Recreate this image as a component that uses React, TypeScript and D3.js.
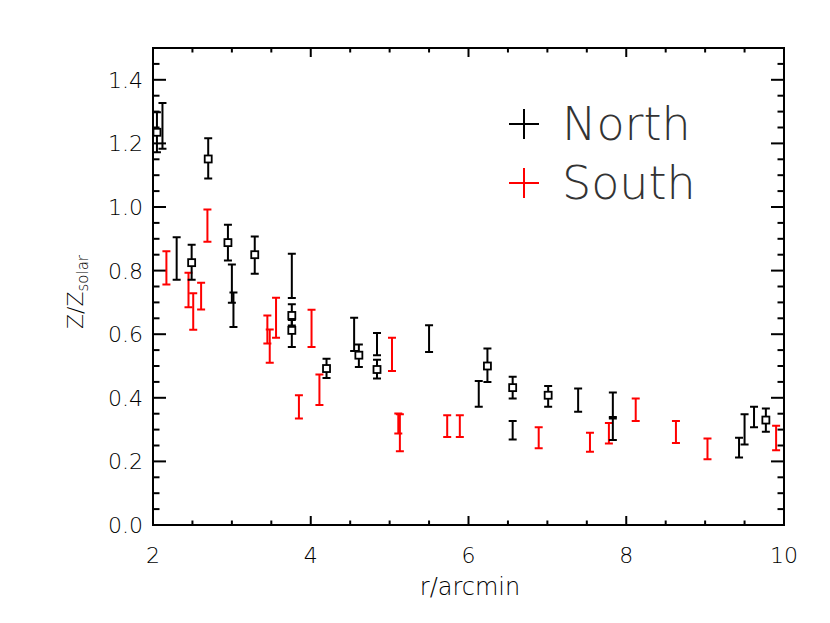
import React, { useEffect, useRef } from "react";
import * as d3 from "d3";

// [r, z, zLow, zHigh] — black points drawn with an open square
const northSquares: [number, number, number, number][] = [
  [2.05, 1.235, 1.172, 1.298], [2.49, 0.825, 0.771, 0.881], [2.7, 1.151, 1.09, 1.216],
  [2.95, 0.888, 0.832, 0.944], [3.29, 0.85, 0.79, 0.907], [3.76, 0.659, 0.627, 0.694],
  [3.76, 0.612, 0.56, 0.645], [4.2, 0.492, 0.462, 0.523], [4.61, 0.534, 0.497, 0.568],
  [4.84, 0.489, 0.461, 0.52], [6.24, 0.5, 0.45, 0.555], [6.56, 0.432, 0.398, 0.466],
  [7.01, 0.408, 0.372, 0.437], [9.77, 0.33, 0.293, 0.366],
];

// [r, zLow, zHigh] — plain error bars
const northBars: [number, number, number][] = [
  [2.12, 1.183, 1.327], [2.3, 0.771, 0.905], [3.0, 0.699, 0.819], [3.02, 0.623, 0.731],
  [3.76, 0.714, 0.853], [4.55, 0.547, 0.652], [4.84, 0.534, 0.604], [5.5, 0.544, 0.628],
  [6.13, 0.372, 0.453], [6.56, 0.269, 0.327], [7.39, 0.356, 0.429], [7.83, 0.335, 0.417],
  [7.83, 0.267, 0.34], [9.43, 0.212, 0.274], [9.5, 0.253, 0.348], [9.62, 0.307, 0.372],
];

const southBars: [number, number, number][] = [
  [2.17, 0.756, 0.861], [2.45, 0.685, 0.793], [2.51, 0.614, 0.729], [2.61, 0.678, 0.762],
  [2.69, 0.891, 0.992], [3.45, 0.571, 0.659], [3.48, 0.51, 0.615], [3.56, 0.589, 0.715],
  [3.85, 0.335, 0.408], [4.01, 0.56, 0.677], [4.11, 0.377, 0.473], [5.03, 0.484, 0.589],
  [5.11, 0.288, 0.351], [5.13, 0.232, 0.348], [5.73, 0.277, 0.345], [5.89, 0.277, 0.345],
  [6.89, 0.241, 0.307], [7.54, 0.23, 0.29], [7.78, 0.256, 0.321], [8.12, 0.327, 0.398],
  [8.63, 0.258, 0.327], [9.03, 0.207, 0.272], [9.9, 0.235, 0.312],
];

const xMajor = [2, 4, 6, 8, 10];
const yMajor = [0, 0.2, 0.4, 0.6, 0.8, 1.0, 1.2, 1.4];
const legendItems = [{ name: "North", color: "black" }, { name: "South", color: "red" }];

export default function App() {
  const ref = useRef<SVGSVGElement>(null);

  useEffect(() => {
    const svg = d3.select(ref.current);
    svg.selectAll("*").remove();
    const left = 153, right = 784, top = 48, bottom = 525;
    const font = "'DejaVu Sans', sans-serif";

    const x = d3.scaleLinear().domain([2, 10]).range([left, right]);
    const y = d3.scaleLinear().domain([0, 1.5]).range([bottom, top]);

    const xMinor = d3.range(2, 10.001, 0.5).filter((v) => !xMajor.includes(v));
    const yMinor = d3.range(0, 1.501, 0.05).map((v) => +v.toFixed(2)).filter((v) => !yMajor.includes(v));

    const g = svg.append("g").attr("stroke", "black").attr("stroke-width", 2);
    // ticks, drawn inward on all four sides
    const xt = [...xMajor.map((v) => [v, 9]), ...xMinor.map((v) => [v, 4.5])];
    g.selectAll(".xb").data(xt).join("line")
      .attr("x1", (d) => x(d[0])).attr("x2", (d) => x(d[0]))
      .attr("y1", bottom).attr("y2", (d) => bottom - d[1]);
    g.selectAll(".xt").data(xt).join("line")
      .attr("x1", (d) => x(d[0])).attr("x2", (d) => x(d[0]))
      .attr("y1", top).attr("y2", (d) => top + d[1]);
    const yt = [...yMajor.map((v) => [v, 13]), ...yMinor.map((v) => [v, 6.5])];
    g.selectAll(".yl").data(yt).join("line")
      .attr("y1", (d) => y(d[0])).attr("y2", (d) => y(d[0]))
      .attr("x1", left).attr("x2", (d) => left + d[1]);
    g.selectAll(".yr").data(yt).join("line")
      .attr("y1", (d) => y(d[0])).attr("y2", (d) => y(d[0]))
      .attr("x1", right).attr("x2", (d) => right - d[1]);
    g.append("rect").attr("x", left).attr("y", top).attr("width", right - left)
      .attr("height", bottom - top).attr("fill", "none");

    // tick labels
    svg.selectAll(".xlab").data(xMajor).join("text")
      .attr("x", (d) => x(d)).attr("y", 563).attr("text-anchor", "middle")
      .attr("font-family", font).attr("font-weight", 200).attr("font-size", 22).attr("fill", "black").text((d) => d);
    svg.selectAll(".ylab").data(yMajor).join("text")
      .attr("x", 143).attr("y", (d) => y(d) + 8).attr("text-anchor", "end")
      .attr("font-family", font).attr("font-weight", 200).attr("font-size", 22).attr("fill", "black").text((d) => d.toFixed(1));

    svg.append("text").attr("x", 470).attr("y", 595).attr("text-anchor", "middle")
      .attr("font-family", font).attr("font-weight", 200).attr("font-size", 24).attr("fill", "black").text("r/arcmin");
    const yt2 = svg.append("text").attr("transform", "translate(83,292) rotate(-90)")
      .attr("text-anchor", "middle").attr("font-family", font).attr("font-weight", 200)
      .attr("font-size", 22).attr("fill", "black");
    yt2.append("tspan").text("Z/Z");
    yt2.append("tspan").attr("font-size", 15).attr("dy", 5).text("solar");

    const cap = 4;
    const drawBars = (data: [number, number, number][], color: string) => {
      const b = svg.append("g").attr("stroke", color).attr("stroke-width", 2).attr("fill", "none");
      b.selectAll("path").data(data).join("path")
        .attr("d", (d) => {
          const cx = x(d[0]), y0 = y(d[1]), y1 = y(d[2]);
          return `M${cx - cap},${y0}H${cx + cap}M${cx},${y0}V${y1}M${cx - cap},${y1}H${cx + cap}`;
        });
    };
    drawBars(southBars, "red");
    drawBars(northBars, "black");
    drawBars(northSquares.map((d) => [d[0], d[2], d[3]] as [number, number, number]), "black");
    svg.append("g").selectAll("rect").data(northSquares).join("rect")
      .attr("x", (d) => x(d[0]) - 3.5).attr("y", (d) => y(d[1]) - 3.5)
      .attr("width", 7).attr("height", 7)
      .attr("fill", "white").attr("stroke", "black").attr("stroke-width", 1.8);

    // legend
    const lg = svg.selectAll(".leg").data(legendItems).join("g")
      .attr("transform", (d, i) => `translate(524,${124 + i * 59})`);
    lg.append("path").attr("d", "M-15,0H15M0,-15V15").attr("stroke", (d) => d.color).attr("stroke-width", 2);
    lg.append("text").attr("x", 38).attr("y", 16).attr("font-family", font).attr("font-weight", 200)
      .attr("font-size", 46).attr("fill", "#333").text((d) => d.name);
  }, []);

  return <svg ref={ref} width={830} height={623} style={{ position: "absolute", left: 0, top: 0, background: "white" }}></svg>;
}
